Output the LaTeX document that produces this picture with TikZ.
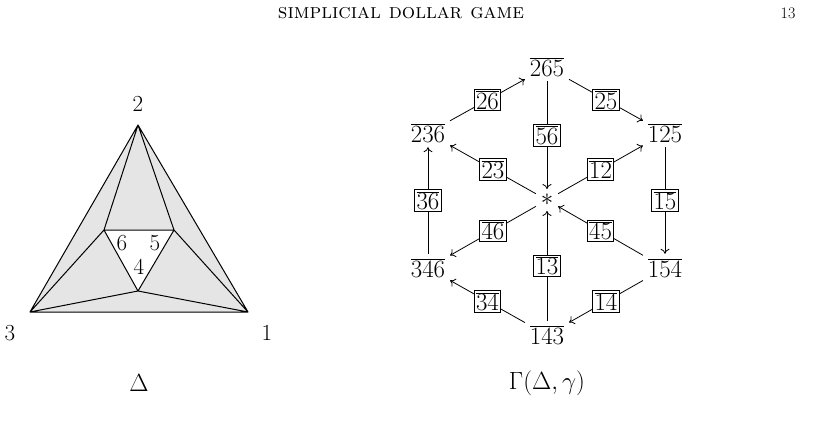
\documentclass[tikz,border=0pt]{standalone}
\usetikzlibrary{arrows.meta}
\begin{document}
\begin{tikzpicture}[x=1pt,y=-1pt,
  every node/.style={font=\fontsize{23}{27}\selectfont},
  v/.style={inner sep=3pt},
  lab/.style={draw,fill=white,inner sep=1.8pt,line width=0.8pt},
  e/.style={-{To[length=5pt,width=9pt]},line width=0.8pt,shorten >=2pt,shorten <=2pt}]
\useasboundingbox (0,0) rectangle (817,441);
\node (hd) at (401,13) {\fontsize{21}{25}\selectfont\textsc{simplicial dollar game}};
\node (pg) at (788,13) {\fontsize{16}{18}\selectfont 13};
% triangle
\coordinate (t2) at (138,125); \coordinate (t3) at (30,312); \coordinate (t1) at (248,312);
\coordinate (t6) at (104,230); \coordinate (t5) at (174,230); \coordinate (t4) at (138,291);
\fill[gray!20] (t1)--(t2)--(t3)--cycle;
\fill[white] (t4)--(t5)--(t6)--cycle;
\draw[line width=1pt,line join=round] (t1)--(t2)--(t3)--cycle (t2)--(t6)--(t5)--cycle (t6)--(t4)--(t5) (t3)--(t6) (t3)--(t4)--(t1)--(t5);
\node (l2) at (138,104) {2}; \node (l3) at (10,333) {3}; \node (l1) at (267,333) {1};
\node (l6) at (122,243) {6}; \node (l5) at (155,243) {5}; \node (l4) at (139,267) {4};
\node (dl) at (139,383) {$\Delta$};
% graph
\node[v] (a) at (547,67) {$\overline{265}$};
\node[v] (b) at (665,133) {$\overline{125}$};
\node[v] (c) at (665,268) {$\overline{154}$};
\node[v] (d) at (547,335) {$\overline{143}$};
\node[v] (f) at (428,268) {$\overline{346}$};
\node[v] (g) at (428,133) {$\overline{236}$};
\node[v] (s) at (547,200) {$*$};
\draw[e] (a) -- node[lab]{$\overline{25}$} (b);
\draw[e] (g) -- node[lab]{$\overline{26}$} (a);
\draw[e] (a) -- node[lab]{$\overline{56}$} (s);
\draw[e] (s) -- node[lab]{$\overline{23}$} (g);
\draw[e] (s) -- node[lab]{$\overline{12}$} (b);
\draw[e] (b) -- node[lab]{$\overline{15}$} (c);
\draw[e] (c) -- node[lab]{$\overline{45}$} (s);
\draw[e] (c) -- node[lab]{$\overline{14}$} (d);
\draw[e] (d) -- node[lab]{$\overline{13}$} (s);
\draw[e] (d) -- node[lab]{$\overline{34}$} (f);
\draw[e] (s) -- node[lab]{$\overline{46}$} (f);
\draw[e] (f) -- node[lab]{$\overline{36}$} (g);
\node (gl) at (547,383) {$\Gamma(\Delta,\gamma)$};
\end{tikzpicture}
\end{document}
